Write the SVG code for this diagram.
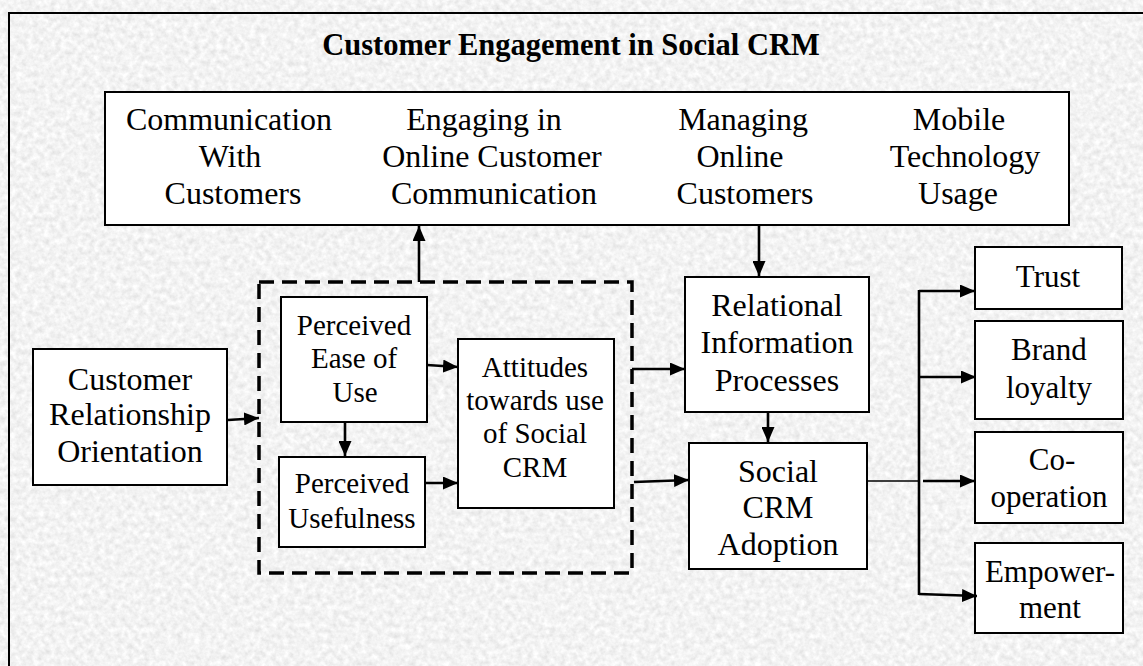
<svg xmlns="http://www.w3.org/2000/svg" width="1143" height="666" viewBox="0 0 1143 666">
<defs>
<filter id="tex" x="0" y="0" width="100%" height="100%" filterUnits="userSpaceOnUse">
<feTurbulence type="fractalNoise" baseFrequency="0.18" numOctaves="3" seed="7"/>
<feColorMatrix type="matrix" values="0.35 0 0 0 0.72  0.35 0 0 0 0.72  0.35 0 0 0 0.72  0 0 0 0 1"/>
</filter>
<marker id="ah" markerUnits="userSpaceOnUse" markerWidth="15" markerHeight="13" refX="15" refY="6.5" orient="auto">
<path d="M0,0 L15,6.5 L0,13 z" fill="#000"/>
</marker>
<style>
.box{fill:#fff;stroke:#000;stroke-width:2}
.t{font-family:"Liberation Serif","Times New Roman",serif;fill:#000;text-anchor:middle}
.t32{font-size:32px}
.t31{font-size:31px}
.t29{font-size:29px}
.title{font-family:"Liberation Serif","Times New Roman",serif;font-weight:bold;font-size:30.5px;text-anchor:middle;fill:#000}
.c{stroke:#000;stroke-width:2.6;fill:none}
.ca{stroke:#000;stroke-width:2.6;fill:none;marker-end:url(#ah)}
.thin{stroke:#000;stroke-width:1.5;fill:none}
.dash{fill:none;stroke:#000;stroke-width:3.5;stroke-dasharray:15 8}
</style>
</defs>
<rect x="0" y="0" width="1143" height="666" fill="#fff"/>
<rect x="9" y="13" width="1140" height="660" filter="url(#tex)"/>
<rect x="9" y="13" width="1140" height="660" fill="none" stroke="#000" stroke-width="2"/>

<text class="title" x="571" y="55">Customer Engagement in Social CRM</text>

<g id="top-box">
<rect class="box" x="105" y="92" width="964" height="133"/>
<text class="t t32"><tspan x="229" y="130">Communication</tspan><tspan x="230" y="167">With</tspan><tspan x="233" y="204">Customers</tspan></text>
<text class="t t32"><tspan x="484" y="130">Engaging in</tspan><tspan x="492" y="167">Online Customer</tspan><tspan x="494" y="204">Communication</tspan></text>
<text class="t t32"><tspan x="743" y="130">Managing</tspan><tspan x="740" y="167">Online</tspan><tspan x="745" y="204">Customers</tspan></text>
<text class="t t32"><tspan x="959" y="130">Mobile</tspan><tspan x="965" y="167">Technology</tspan><tspan x="958" y="204">Usage</tspan></text>
</g>

<g id="cro">
<rect class="box" x="33" y="349" width="194" height="136"/>
<text class="t t32"><tspan x="130" y="390">Customer</tspan><tspan x="130" y="425">Relationship</tspan><tspan x="130" y="462">Orientation</tspan></text>
</g>

<g id="tam-group">
<rect class="dash" x="259" y="282" width="373" height="291"/>
</g>

<g id="ease">
<rect class="box" x="281" y="297" width="146" height="125"/>
<text class="t t29"><tspan x="354" y="335">Perceived</tspan><tspan x="354" y="368">Ease of</tspan><tspan x="355" y="402">Use</tspan></text>
</g>

<g id="usefulness">
<rect class="box" x="279" y="457" width="146" height="90"/>
<text class="t t29"><tspan x="352" y="493">Perceived</tspan><tspan x="352" y="528">Usefulness</tspan></text>
</g>

<g id="attitudes">
<rect class="box" x="458" y="339" width="156" height="169"/>
<text class="t t29"><tspan x="535" y="377">Attitudes</tspan><tspan x="535" y="410">towards use</tspan><tspan x="535" y="443">of Social</tspan><tspan x="535" y="477">CRM</tspan></text>
</g>

<g id="relational">
<rect class="box" x="685" y="277" width="184" height="135"/>
<text class="t t32"><tspan x="777" y="316">Relational</tspan><tspan x="777" y="353">Information</tspan><tspan x="777" y="391">Processes</tspan></text>
</g>

<g id="adoption">
<rect class="box" x="689" y="443" width="178" height="126"/>
<text class="t t32"><tspan x="778" y="482">Social</tspan><tspan x="778" y="518">CRM</tspan><tspan x="778" y="555">Adoption</tspan></text>
</g>

<g id="trust">
<rect class="box" x="975" y="247" width="147" height="62"/>
<text class="t t31"><tspan x="1048" y="287">Trust</tspan></text>
</g>

<g id="brand">
<rect class="box" x="975" y="321" width="148" height="98"/>
<text class="t t31"><tspan x="1049" y="360">Brand</tspan><tspan x="1049" y="398">loyalty</tspan></text>
</g>

<g id="cooperation">
<rect class="box" x="975" y="432" width="148" height="91"/>
<text class="t t31"><tspan x="1052" y="470">Co-</tspan><tspan x="1049" y="507">operation</tspan></text>
</g>

<g id="empowerment">
<rect class="box" x="975" y="543" width="148" height="90"/>
<text class="t t31"><tspan x="1050" y="582">Empower-</tspan><tspan x="1050" y="618">ment</tspan></text>
</g>

<g id="connectors">
<line class="ca" x1="228" y1="420" x2="259" y2="418"/>
<line class="ca" x1="419" y1="282" x2="419" y2="226"/>
<line class="ca" x1="345" y1="422" x2="345" y2="456"/>
<line class="ca" x1="427" y1="365" x2="458" y2="367"/>
<line class="ca" x1="425" y1="483" x2="458" y2="483"/>
<line class="ca" x1="632" y1="369" x2="685" y2="369"/>
<line class="ca" x1="634" y1="482" x2="689" y2="480"/>
<line class="ca" x1="759" y1="225" x2="759" y2="276"/>
<line class="ca" x1="768" y1="412" x2="768" y2="442"/>
<line class="thin" x1="867" y1="481" x2="918" y2="481"/>
<line class="c" x1="919" y1="290" x2="919" y2="595"/>
<line class="ca" x1="919" y1="291" x2="975" y2="291"/>
<line class="ca" x1="919" y1="377" x2="976" y2="377"/>
<line class="ca" x1="923" y1="481" x2="975" y2="481"/>
<line class="ca" x1="919" y1="594" x2="977" y2="596"/>
</g>
</svg>
